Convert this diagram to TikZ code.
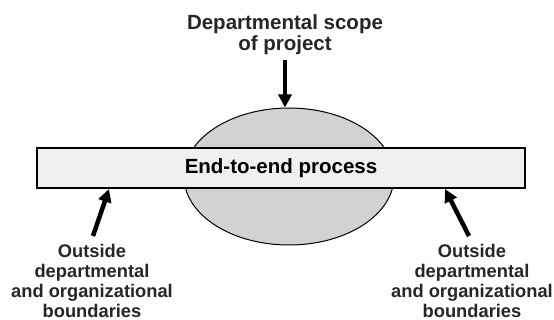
\documentclass[tikz,border=0pt]{standalone}
\usepackage{fontspec}
\setmainfont{Liberation Sans}
\usepackage{tikz}
\usetikzlibrary{shapes.geometric, arrows.meta, positioning}
\colorlet{procFill}{gray!12}
\colorlet{scopeFill}{gray!35}
\tikzset{
  procbar/.style={rectangle, draw=black, line width=1.2pt, fill=procFill,
                  minimum width=488pt, minimum height=40pt, inner sep=0pt,
                  font=\fontsize{20.5}{22}\selectfont\bfseries},
  scopeoval/.style={ellipse, draw=black, line width=1pt, fill=scopeFill,
                    minimum width=210pt, minimum height=137pt, inner sep=0pt},
  toplabel/.style={align=center, inner sep=0pt, text=black!85,
                   font=\fontsize{20.5}{21}\selectfont\bfseries},
  sidelabel/.style={align=center, inner sep=0pt, text=black!85,
                    font=\fontsize{18.3}{20}\selectfont\bfseries},
  bigarrow/.style={-{Triangle[length=13pt, width=13pt]}, line width=4.5pt, black},
}
\begin{document}
\begin{tikzpicture}[x=1pt, y=-1pt]
  \useasboundingbox (0,0) rectangle (554,320);
  % scope and process
  \node[scopeoval] (scope) at (289,176.5) {};
  \node[procbar] (proc) at (281,168) {End-to-end process};

  % labels
  \node[toplabel, anchor=north] (deptnote) at (285,14) {Departmental scope\\of project};
  \node[sidelabel, anchor=north] (leftnote) at (92,244) {Outside\\departmental\\and organizational\\boundaries};
  \node[sidelabel, anchor=north] (rightnote) at (472,244) {Outside\\departmental\\and organizational\\boundaries};

  % arrows
  \coordinate (ttail) at (285,60);
  \coordinate (ltail) at (93,236);
  \coordinate (lhit) at (109,189);
  \coordinate (rtail) at (469,236);
  \coordinate (rhit) at (445,189);
  \draw[bigarrow] (ttail) -- (ttail |- scope.north);
  \draw[bigarrow] (ltail) -- (lhit);
  \draw[bigarrow] (rtail) -- (rhit);
\end{tikzpicture}
\end{document}
